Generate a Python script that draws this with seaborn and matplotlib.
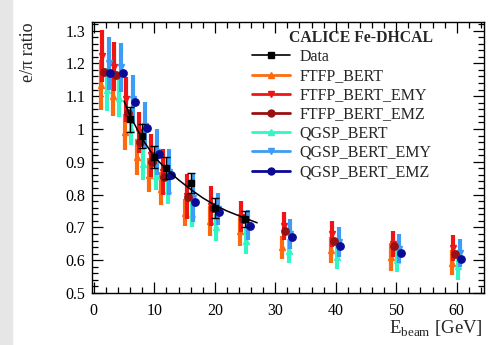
import numpy as np
import pandas as pd
import matplotlib
matplotlib.use("Agg")
import matplotlib.pyplot as plt
from matplotlib.lines import Line2D
from matplotlib.patches import Rectangle
from matplotlib.ticker import MultipleLocator
import seaborn as sns

# beam energies (GeV)
e_data = [6, 8, 10, 12, 16, 20, 25]
ratio_data = [1.030, 0.979, 0.915, 0.881, 0.835, 0.759, 0.726]
err_data = [0.038, 0.037, 0.034, 0.033, 0.030, 0.030, 0.025]

# fit curve
e_fit = [5, 6, 8, 10, 12, 14, 16, 18, 20, 22, 25, 27]
ratio_fit = [1.085, 1.04, 0.97, 0.915, 0.877, 0.845, 0.816, 0.79, 0.768, 0.75, 0.728, 0.714]

e_sim = [2, 4, 6, 8, 10, 12, 16, 20, 25, 32, 40, 50, 60]

ftfp_bert = [1.134, 1.10, 0.99, 0.915, 0.86, 0.818, 0.745, 0.72, 0.688, 0.64, 0.63, 0.61, 0.592]
ftfp_bert_err = [0.076, 0.06, 0.055, 0.055, 0.052, 0.05, 0.04, 0.045, 0.045, 0.035, 0.04, 0.042, 0.038]

ftfp_bert_emy = [1.223, 1.19, 1.09, 0.99, 0.92, 0.87, 0.795, 0.765, 0.733, 0.705, 0.68, 0.65, 0.638]
ftfp_bert_emy_err = [0.08, 0.075, 0.068, 0.062, 0.065, 0.07, 0.068, 0.06, 0.048, 0.043, 0.04, 0.04, 0.04]

ftfp_bert_emz = [1.174, 1.165, 1.05, 0.96, 0.90, 0.854, 0.793, 0.76, 0.725, 0.689, 0.659, 0.643, 0.619]

qgsp_bert = [1.12, 1.095, 1.0, 0.893, 0.858, 0.815, 0.74, 0.70, 0.66, 0.628, 0.61, 0.60, 0.582]
qgsp_bert_err = [0.065, 0.06, 0.05, 0.05, 0.045, 0.045, 0.04, 0.04, 0.04, 0.038, 0.036, 0.037, 0.042]

qgsp_bert_emy = [1.20, 1.188, 1.09, 1.01, 0.93, 0.87, 0.79, 0.756, 0.708, 0.68, 0.655, 0.635, 0.622]
qgsp_bert_emy_err = [0.08, 0.075, 0.075, 0.072, 0.07, 0.07, 0.073, 0.05, 0.045, 0.045, 0.045, 0.045, 0.043]

qgsp_bert_emz = [1.171, 1.171, 1.082, 1.003, 0.924, 0.86, 0.777, 0.747, 0.704, 0.671, 0.643, 0.622, 0.604]

sns.set_theme(style="ticks")
plt.rcParams["font.family"] = ["Liberation Serif", "DejaVu Serif"]
plt.rcParams["mathtext.fontset"] = "custom"
plt.rcParams["mathtext.rm"] = "Liberation Serif"

fig = plt.figure(figsize=(4.92, 3.45), dpi=100)
fig.patches.append(Rectangle((0, 0), 12 / 492, 1, transform=fig.transFigure,
                             color="#e6e6e6", zorder=-1))
ax = fig.add_axes([92 / 492, 1 - 293 / 345, 392 / 492, 271 / 345])

# name, values, errors, colour, marker, x-shift, draw order
sims = [
    ("FTFP_BERT", ftfp_bert, ftfp_bert_err, "#ff6a10", "^", -0.85, 2),
    ("QGSP_BERT", qgsp_bert, qgsp_bert_err, "#33f5c5", "^", 0.2, 2),
    ("FTFP_BERT_EMY", ftfp_bert_emy, ftfp_bert_emy_err, "#f01515", "v", -0.6, 3),
    ("QGSP_BERT_EMY", qgsp_bert_emy, qgsp_bert_emy_err, "#3d9cf5", "v", 0.45, 3),
    ("FTFP_BERT_EMZ", ftfp_bert_emz, None, "#9a1010", "o", -0.35, 4),
    ("QGSP_BERT_EMZ", qgsp_bert_emz, None, "#0a0a96", "o", 0.75, 4),
]
for name, vals, errs, col, mk, dx, z in sims:
    xs = np.array(e_sim) + dx
    if errs is not None:
        ax.errorbar(xs, vals, yerr=errs, fmt="none", ecolor=col, elinewidth=3.0,
                    capsize=0, zorder=z)
    ms = 5.3 if mk == "o" else 3.8
    ax.plot(xs, vals, ls="none", marker=mk, color=col, ms=ms, zorder=z + 0.1)

# data + fit
sns.lineplot(x=e_fit, y=ratio_fit, color="black", lw=1.1, ax=ax, zorder=6)
ax.errorbar(e_data, ratio_data, yerr=err_data, fmt="s", color="black", ms=5,
            elinewidth=1.0, capsize=3, capthick=1.0, zorder=7)

ax.set_xlim(-0.3, 64.5)
ax.set_ylim(0.5, 1.326)
ax.xaxis.set_major_locator(MultipleLocator(10))
ax.xaxis.set_minor_locator(MultipleLocator(2))
ax.yaxis.set_major_locator(MultipleLocator(0.1))
ax.yaxis.set_minor_locator(MultipleLocator(0.02))
ax.yaxis.set_major_formatter(matplotlib.ticker.FuncFormatter(lambda v, p: "1" if abs(v - 1) < 1e-6 else f"{v:.1f}"))
ax.tick_params(which="both", direction="in", top=True, right=True, width=0.9,
               labelsize=11.5, colors="black")
ax.tick_params(which="major", length=8)
ax.tick_params(which="minor", length=4)
ax.tick_params(axis="x", which="major", pad=7)
ax.tick_params(axis="y", which="major", pad=5)
for s in ax.spines.values():
    s.set_linewidth(1.0)
    s.set_color("black")

ax.set_ylabel("e/\u03c0 ratio", fontsize=13, loc="top")
ax.yaxis.set_label_coords(-0.14, 1.0)
ax.set_xlabel("E$_{\\mathrm{beam}}$ [GeV]", fontsize=13.5, loc="right")
ax.xaxis.set_label_coords(0.997, -0.095)

# legend
ax.text((289 - 92) / 392, (293 - 38) / 271, "CALICE Fe-DHCAL", transform=ax.transAxes,
        fontsize=11.3, fontweight="bold", va="center", ha="left")
handles = [Line2D([], [], color="black", marker="s", ms=5, lw=1.2)]
labels = ["Data"]
leg_order = ["FTFP_BERT", "FTFP_BERT_EMY", "FTFP_BERT_EMZ", "QGSP_BERT", "QGSP_BERT_EMY", "QGSP_BERT_EMZ"]
lookup = {s[0]: s for s in sims}
for name in leg_order:
    _, _, _, col, mk, _, _ = lookup[name]
    handles.append(Line2D([], [], color=col, marker=mk, lw=2.0, ms=5 if mk == "o" else 4.0))
    labels.append(name)
ax.legend(handles, labels, loc="upper left", bbox_to_anchor=((252 - 92) / 392, (293 - 49) / 271),
          frameon=False, fontsize=11.5, handlelength=2.4, handletextpad=0.55,
          labelspacing=0.2, borderpad=0, borderaxespad=0)

fig.savefig("out.png", dpi=100)
